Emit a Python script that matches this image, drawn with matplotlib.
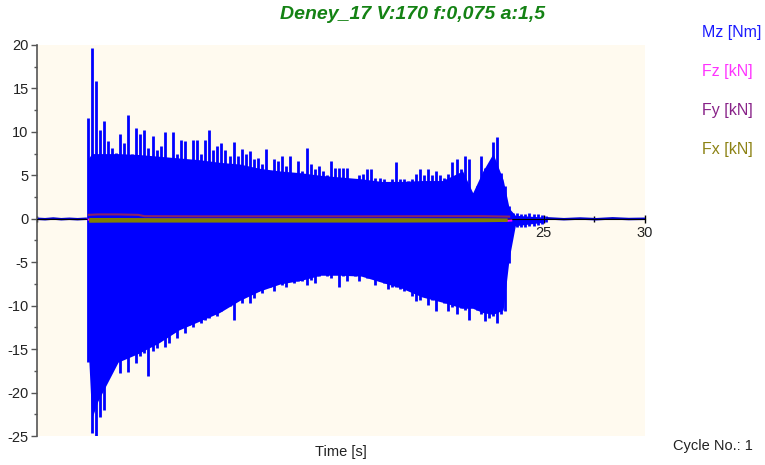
import numpy as np
import matplotlib
matplotlib.use("Agg")
import matplotlib.pyplot as plt
from matplotlib.ticker import MultipleLocator

plt.rcParams['font.family'] = ['Liberation Sans', 'DejaVu Sans']
plt.rcParams['axes.unicode_minus'] = False

# Mz [Nm] - local peak / trough of the signal, one sample every 0.2 s (2.5 .. 25.1 s)
mz_t = np.linspace(2.5, 25.1, 114)
mz_hi = [11.6, 19.7, 15.9, 10.2, 11.3, 9.0, 8.1, 7.6, 9.8, 8.7,
         12.0, 7.4, 10.4, 9.8, 10.2, 8.1, 9.5, 7.9, 8.4, 10.0,
         5.0, 10.0, 7.5, 9.1, 8.9, 4.5, 9.1, 9.1, 7.5, 9.1,
         10.2, 7.9, 8.4, 8.7, 7.9, 7.2, 8.8, 7.2, 8.0, 7.4,
         7.8, 6.9, 7.0, 6.3, 8.0, 5.3, 6.9, 6.6, 7.2, 6.1,
         7.2, 4.2, 6.6, 5.5, 8.2, 6.3, 5.7, 6.1, 5.5, 5.0,
         6.6, 5.9, 5.9, 5.9, 5.9, 4.6, 4.6, 5.0, 5.1, 5.7,
         5.7, 4.7, 4.7, 4.6, 4.0, 4.6, 6.5, 4.6, 4.6, 4.4,
         4.6, 5.1, 5.7, 5.0, 5.7, 5.0, 5.5, 5.0, 4.7, 5.1,
         6.5, 6.9, 5.7, 7.2, 6.9, 2.6, 3.8, 7.2, 5.9, 6.3,
         8.8, 9.4, 5.3, 3.8, 1.5, 0.7,
         0.7, 0.6, 0.5, 0.7, 0.6, 0.5, 0.4, 0.3]
mz_lo = [-16.5, -24.7, -25.0, -22.8, -22.0, -17.2, -15.6, -16.6, -17.7, -16.0,
         -17.6, -15.6, -16.6, -15.8, -15.4, -18.1, -15.2, -14.9, -13.3, -14.7,
         -14.3, -12.9, -13.7, -12.6, -13.1, -12.2, -12.4, -11.8, -12.0, -11.6,
         -11.4, -10.8, -11.2, -10.6, -10.3, -10.0, -11.6, -9.3, -9.7, -8.7,
         -9.7, -9.1, -8.3, -8.5, -7.9, -7.8, -8.3, -7.4, -7.6, -7.8,
         -7.2, -7.4, -7.2, -7.2, -7.6, -7.0, -7.4, -6.6, -6.2, -6.6,
         -6.8, -6.4, -7.9, -6.6, -7.2, -5.6, -6.6, -7.2, -6.2, -6.8,
         -6.6, -7.6, -7.2, -7.4, -8.1, -7.9, -7.8, -8.1, -8.3, -8.1,
         -8.9, -9.5, -9.3, -8.7, -9.9, -9.3, -10.6, -9.1, -9.7, -10.6,
         -10.1, -11.0, -10.3, -10.5, -11.6, -10.1, -10.5, -11.0, -11.8, -11.4,
         -11.2, -12.0, -11.0, -10.6, -5.1, -1.2,
         -1.0, -0.9, -0.9, -0.8, -0.8, -0.7, -0.6, -0.4]

# solid core of the Mz band
core_t = [2.55, 2.7, 3.0, 4.0, 5.0, 6.0, 7.0, 8.0, 9.0, 10.0, 11.0, 12.0, 13.0, 14.0, 15.0,
          16.0, 17.0, 18.0, 19.0, 20.0, 21.0, 21.5, 22.0, 22.5, 23.0, 23.3, 23.6, 25.0]
core_hi = [7.0, 7.5, 7.5, 7.5, 7.4, 7.2, 7.0, 6.8, 6.5, 6.3, 5.8, 5.5, 5.3, 5.0, 4.8,
           4.6, 4.3, 4.3, 4.4, 4.4, 5.5, 3.0, 5.5, 7.5, 4.5, 1.2, 0.4, 0.2]
core_lo = [-16.0, -23.0, -21.0, -16.5, -15.5, -14.3, -12.8, -11.8, -10.8, -9.4, -8.3, -7.5, -7.1, -6.5, -6.5,
           -6.6, -7.3, -8.0, -9.0, -9.6, -10.3, -10.3, -10.8, -11.0, -10.5, -4.5, -0.8, -0.4]

# idle Mz before and after the cut
pre_t = [0.0, 0.4, 0.8, 1.2, 1.6, 2.0, 2.4]
pre_v = [0.0, -0.05, 0.03, -0.05, 0.0, -0.05, 0.0]
post_t = [25.2, 26.0, 26.8, 27.6, 28.4, 29.2, 30.0]
post_v = [0.05, -0.05, 0.03, -0.05, 0.05, -0.03, 0.0]

# forces [kN]
fx_t = [2.55, 4, 6, 8, 10, 12, 14, 16, 18, 20, 22, 23.2]
fx_hi = [0.15, 0.15, 0.12, 0.12, 0.12, 0.12, 0.12, 0.12, 0.12, 0.12, 0.12, 0.1]
fx_lo = [-0.4, -0.38, -0.38, -0.38, -0.38, -0.38, -0.38, -0.38, -0.38, -0.36, -0.34, -0.3]
fy_t = [2.55, 3.0, 4.0, 5.0, 5.3, 8, 12, 16, 20, 22, 23.3]
fy_v = [0.45, 0.5, 0.5, 0.45, 0.3, 0.28, 0.28, 0.28, 0.3, 0.3, 0.25]
fz_t = [2.55, 6, 10, 14, 18, 22, 23.0, 23.4]
fz_v = [-0.1, -0.1, -0.1, -0.1, -0.1, -0.2, -0.25, -0.2]

legend_labels = ['Mz [Nm]', 'Fz [kN]', 'Fy [kN]', 'Fx [kN]']
legend_colors = ['#1a1aff', '#ff33ff', '#882288', '#8c8214']

fig = plt.figure(figsize=(7.65, 4.65), dpi=100)
ax = fig.add_axes([37 / 765, 1 - 436 / 465, 608 / 765, 391 / 465])
ax.set_facecolor('#fffaef')
ax.set_axisbelow(True)

blue = '#0000ff'
ax.fill_between(core_t, core_lo, core_hi, color=blue, lw=0, zorder=2)
ax.vlines(mz_t, mz_lo, mz_hi, colors=blue, lw=2.0, zorder=2)
ax.plot(pre_t, pre_v, color='#0000cc', lw=1.8, zorder=2)
ax.plot(post_t, post_v, color='#0000cc', lw=1.8, zorder=2)

ax.plot(fz_t, fz_v, color='#ff00ff', lw=1.5, zorder=2.6)
ax.fill_between(fx_t, fx_lo, fx_hi, color='#808000', lw=0, zorder=3)
ax.plot(fy_t, fy_v, color='#882266', lw=1.5, zorder=3.1)

ax.set_xlim(0, 30)
ax.set_ylim(-25, 20)

ax.spines['top'].set_visible(False)
ax.spines['right'].set_visible(False)
ax.spines['left'].set_color('#555555')
ax.spines['left'].set_linewidth(1.2)
ax.spines['bottom'].set_position(('data', 0))
ax.spines['bottom'].set_color('black')
ax.spines['bottom'].set_zorder(2.5)

ax.set_xticks([5, 10, 15, 20, 25, 30])
ax.xaxis.set_minor_locator(MultipleLocator(2.5))
ax.yaxis.set_major_locator(MultipleLocator(5))
ax.yaxis.set_minor_locator(MultipleLocator(2.5))
ax.tick_params(axis='x', which='major', direction='inout', length=6, width=1,
               labelsize=10.5, colors='black', labelcolor='#222222', pad=2)
ax.tick_params(axis='x', which='minor', direction='inout', length=4, width=1)
ax.tick_params(axis='y', which='major', direction='out', length=4, width=1,
               labelsize=10.5, color='#555555', labelcolor='#222222', pad=2)
ax.tick_params(axis='y', which='minor', direction='out', length=2.5, width=1, color='#555555')

fig.text(0.539, 0.968, 'Deney_17 V:170 f:0,075 a:1,5', ha='center', va='center',
         fontsize=14, fontweight='bold', fontstyle='italic', color='#148214')

for i, (lab, col) in enumerate(zip(legend_labels, legend_colors)):
    fig.text(702 / 765, 1 - (32 + 39.3 * i) / 465, lab, ha='left', va='center',
             fontsize=11.5, color=col)

fig.text(341 / 765, 1 - 452 / 465, 'Time [s]', ha='center', va='center',
         fontsize=10.5, color='#222222')
fig.text(673 / 765, 1 - 446 / 465, 'Cycle No.: 1', ha='left', va='center',
         fontsize=10.5, color='#222222')

fig.savefig('out.png', dpi=100, facecolor='white')
